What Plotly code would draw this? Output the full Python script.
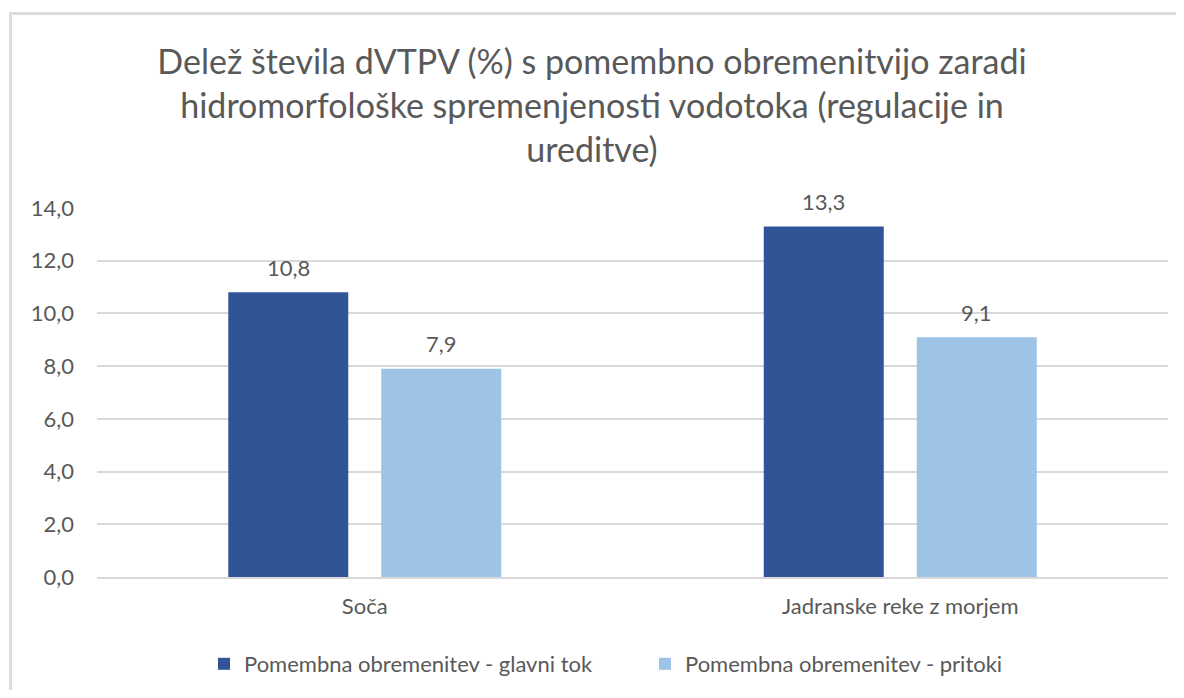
import plotly.graph_objects as go

categories = ["Soča", "Jadranske reke z morjem"]
series_names = ["Pomembna obremenitev - glavni tok", "Pomembna obremenitev - pritoki"]
glavni_tok = [10.8, 13.3]
pritoki = [7.9, 9.1]
tick_vals = [0, 2, 4, 6, 8, 10, 12, 14]
tick_text = ["0,0", "2,0", "4,0", "6,0", "8,0", "10,0", "12,0", "14,0"]
title_text = ("Delež števila dVTPV (%) s pomembno obremenitvijo zaradi<br>"
              "hidromorfološke spremenjenosti vodotoka (regulacije in<br>ureditve)")

colors = ["#2F5597", "#9DC3E6"]
FONT = "Lato, 'Open Sans', sans-serif"
TXT = "#595959"

def fmt(v):
    return f"{v:.1f}".replace(".", ",")

fig = go.Figure()
for name, vals, col in zip(series_names, [glavni_tok, pritoki], colors):
    fig.add_trace(go.Bar(
        x=categories, y=vals, name=name, marker_color=col, marker_line_width=0,
    ))

# value labels above each bar (placed through the axis scales)
annotations = []
for vals, shift in zip([glavni_tok, pritoki], [-76.5, 76.5]):
    for c, v in zip(categories, vals):
        annotations.append(dict(x=c, y=v, xref="x", yref="y", text=fmt(v), showarrow=False,
                                xshift=shift, yshift=25, yanchor="middle",
                                font=dict(size=22, color=TXT, family=FONT)))

# page body has an 8px margin -> figure is offset by (8, 8)
W, H = 1168, 682
L, R, T, B = 89, 8, 200, 113
pw, ph = W - L - R, H - T - B
OFF = 8

def px(x):
    return (x - OFF - L) / pw

def py(y):
    return (H - B - (y - OFF)) / ph

fig.update_layout(
    width=W, height=H,
    margin=dict(l=L, r=R, t=T, b=B, autoexpand=False),
    paper_bgcolor="white", plot_bgcolor="white",
    barmode="group", bargap=0.4286, bargroupgap=0.2157,
    font=dict(family=FONT, color=TXT, size=22),
    title=dict(text=title_text, x=0.5, xanchor="center", y=1 - 66 / H, yanchor="top",
               font=dict(size=34, color=TXT, family=FONT)),
    xaxis=dict(showgrid=False, showline=True, linecolor="#d9d9d9", linewidth=1.5,
               tickfont=dict(size=22, color=TXT), ticks="", ticklabelstandoff=9),
    yaxis=dict(range=[0, 14], tickvals=tick_vals, ticktext=tick_text, showgrid=True,
               gridcolor="#d9d9d9", gridwidth=1.5, zeroline=False, showline=False,
               tickfont=dict(size=22, color=TXT), ticklabelstandoff=22),
    legend=dict(orientation="h", x=px(204), xanchor="left", y=py(664), yanchor="middle",
                font=dict(size=22, color=TXT), itemwidth=30, traceorder="normal",
                entrywidth=396),
    annotations=annotations,
    shapes=[dict(type="rect", xref="paper", yref="paper",
                 x0=px(10.5), x1=px(1230), y0=py(740), y1=py(13.5),
                 line=dict(color="#dcdcdc", width=3), fillcolor="rgba(0,0,0,0)", layer="below")],
)

fig.write_html("out.html")
